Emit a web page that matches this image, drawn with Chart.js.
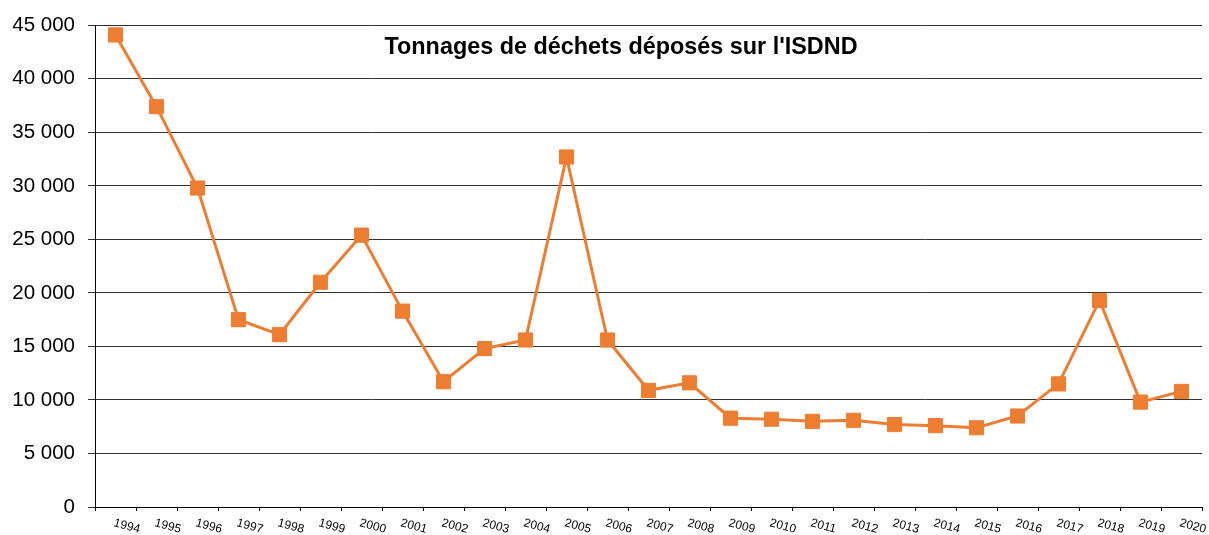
<!DOCTYPE html>
<html>
<head>
<meta charset="utf-8">
<script src="https://cdn.jsdelivr.net/npm/chart.js@4/dist/chart.umd.min.js"></script>
<style>
  body { margin: 0; background: #fff; }
  canvas { display: block; }
</style>
</head>
<body>
<canvas id="isdnd-chart" width="1209" height="535"></canvas>
<script>
// Data
const years = ['1994', '1995', '1996', '1997', '1998', '1999', '2000', '2001', '2002',
    '2003', '2004', '2005', '2006', '2007', '2008', '2009', '2010', '2011', '2012',
    '2013', '2014', '2015', '2016', '2017', '2018', '2019', '2020'];
const tonnages = [44100, 37400, 29800, 17500, 16100, 21000, 25400, 18300, 11700,
    14800, 15600, 32700, 15600, 10900, 11600, 8300, 8200, 8000, 8100,
    7700, 7600, 7400, 8500, 11500, 19300, 9800, 10800];
const yTicks = [0, 5000, 10000, 15000, 20000, 25000, 30000, 35000, 40000, 45000];
const chartTitle = "Tonnages de déchets déposés sur l'ISDND";

const orange = '#ED7D31';

// thousands with a space: 45 000
const formatTonnes = (v) => String(v).replace(/\B(?=(\d{3})+(?!\d))/g, ' ');

// Title sits inside the plot, and year labels slant down to the right
const extras = {
    id: 'extras',
    afterDraw(chart) {
        const ctx = chart.ctx;
        const x = chart.scales.x;
        ctx.save();
        ctx.fillStyle = '#000';
        ctx.font = 'bold 23.4px "Liberation Sans", Arial, sans-serif';
        ctx.textAlign = 'center';
        ctx.textBaseline = 'alphabetic';
        ctx.fillText(chartTitle, 621, 54);

        ctx.font = '12px "Liberation Sans", Arial, sans-serif';
        ctx.textAlign = 'left';
        ctx.textBaseline = 'top';
        years.forEach((label, i) => {
            ctx.save();
            ctx.translate(x.getPixelForTick(i), x.top + 10);
            ctx.rotate(15 * Math.PI / 180);
            ctx.fillText(label, 0, 0);
            ctx.restore();
        });
        ctx.restore();
    }
};

const ctx = document.getElementById('isdnd-chart').getContext('2d');
new Chart(ctx, {
    type: 'line',
    data: {
        labels: years,
        datasets: [{
            data: tonnages,
            borderColor: orange,
            backgroundColor: orange,
            borderWidth: 3,
            pointStyle: 'rect',
            pointRadius: 10,
            pointBorderWidth: 1,
            pointBorderColor: orange,
            pointBackgroundColor: orange,
            tension: 0
        }]
    },
    options: {
        responsive: false,
        devicePixelRatio: 1,
        animation: false,
        layout: {
            autoPadding: false,
            padding: { top: 25, right: 7, left: 0, bottom: 0 }
        },
        scales: {
            x: {
                type: 'category',
                offset: true,
                grid: {
                    offset: true,
                    drawOnChartArea: false,
                    drawTicks: true,
                    tickLength: 4,
                    color: '#000'
                },
                border: { color: '#000' },
                ticks: { display: false },
                afterFit(scale) { scale.height = 28; }
            },
            y: {
                min: 0,
                max: 45000,
                afterBuildTicks(scale) {
                    scale.ticks = yTicks.map(v => ({ value: v }));
                },
                ticks: {
                    color: '#000',
                    padding: 13,
                    font: { family: '"Liberation Sans", Arial, sans-serif', size: 20.5 },
                    callback: (v) => formatTonnes(v)
                },
                grid: {
                    color: '#333',
                    tickLength: 7
                },
                border: { color: '#000' },
                afterFit(scale) { scale.width = 95; }
            }
        },
        plugins: {
            legend: { display: false },
            title: { display: false },
            tooltip: { enabled: false }
        }
    },
    plugins: [extras]
});
</script>
</body>
</html>
